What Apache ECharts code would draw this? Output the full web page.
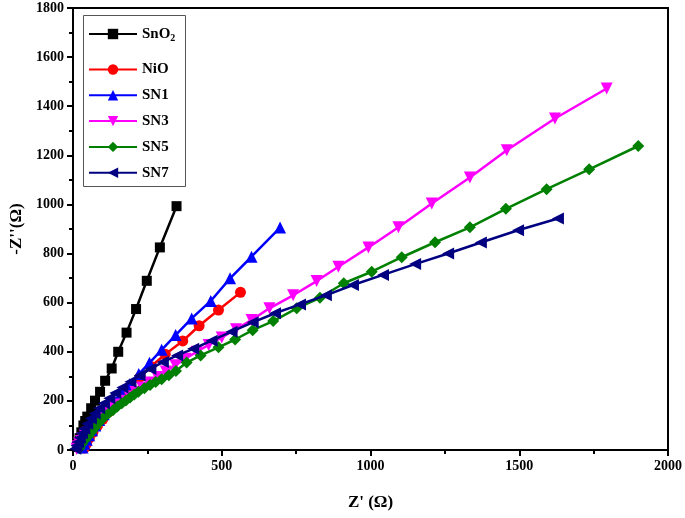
<!DOCTYPE html>
<html>
<head>
<meta charset="utf-8">
<script src="https://cdn.jsdelivr.net/npm/echarts@6/dist/echarts.min.js"></script>
<style>html,body{margin:0;padding:0;background:#fff}#c{width:685px;height:518px}</style>
</head>
<body>
<div id="c"></div>
<script>
const seriesNames = ['SnO2', 'NiO', 'SN1', 'SN3', 'SN5', 'SN7'];
const xTicks = [0, 500, 1000, 1500, 2000];
const yTicks = [0, 200, 400, 600, 800, 1000, 1200, 1400, 1600, 1800];

const SnO2 = [[13,12],[17,28],[22,48],[28,72],[35,100],[41,118],[48,136],[61,170],[74,201],[91,237],[108,282],[130,332],[152,400],[180,478],[212,574],[248,689],[292,825],[348,993]];
const NiO = [[38,8],[45,25],[55,48],[67,72],[82,98],[100,125],[120,155],[143,188],[168,222],[195,258],[226,298],[262,340],[310,390],[369,444],[424,506],[489,570],[563,642]];
const SN1 = [[32,10],[38,25],[46,42],[54,60],[64,80],[75,100],[88,122],[103,146],[120,172],[140,200],[163,232],[190,268],[221,309],[257,355],[298,408],[345,468],[399,536],[463,607],[528,699],[600,787],[696,906]];
const SN3 = [[12,5],[16,15],[21,26],[27,37],[33,48],[40,59],[48,70],[57,81],[66,92],[76,104],[86,116],[98,129],[110,142],[124,156],[138,170],[154,185],[171,201],[190,218],[210,236],[232,255],[256,275],[283,297],[312,320],[344,345],[378,372],[416,400],[456,428],[500,458],[548,492],[600,529],[660,577],[740,630],[819,688],[892,746],[993,825],[1094,907],[1206,1004],[1334,1110],[1458,1221],[1620,1350],[1794,1472]];
const SN5 = [[22,8],[30,25],[40,41],[52,58],[63,75],[74,92],[85,108],[96,123],[108,138],[121,151],[135,163],[149,177],[164,190],[178,202],[192,214],[206,226],[220,237],[240,251],[259,265],[278,277],[298,288],[322,304],[346,322],[382,356],[429,385],[489,418],[545,450],[604,488],[673,525],[752,577],[830,620],[910,679],[1004,726],[1105,785],[1217,846],[1334,907],[1455,982],[1592,1062],[1735,1143],[1900,1238]];
const SN7 = [[8,5],[12,18],[17,33],[23,50],[30,68],[38,87],[48,107],[60,128],[73,149],[88,170],[104,190],[122,211],[142,232],[166,255],[193,278],[224,303],[260,330],[302,358],[350,385],[404,412],[466,445],[533,482],[604,520],[679,557],[763,593],[850,630],[941,672],[1042,713],[1150,757],[1261,800],[1371,845],[1496,895],[1630,943]];

const dataSets = [SnO2, NiO, SN1, SN3, SN5, SN7];
const colors = ['#000000', '#ff0000', '#0000ff', '#ff00ff', '#008000', '#000080'];
const symbols = ['rect', 'circle', 'triangle', 'triangle', 'diamond', 'triangle'];
const rotates = [0, 0, 0, 180, 0, 90];
const sizes = [10, 11, 12, 12, 12, 12];

const font = '"Liberation Serif", "Times New Roman", serif';
const legendText = {fontFamily: font, fontWeight: 'bold', fontSize: 15, color: '#000',
  rich: {sub: {fontFamily: font, fontWeight: 'bold', fontSize: 10, verticalAlign: 'bottom', padding: [9, 0, 0, 0], color: '#000'}}};

const chart = echarts.init(document.getElementById('c'), null, {renderer: 'canvas'});
chart.setOption({
  animation: false,
  backgroundColor: '#fff',
  grid: {left: 73, right: 17, top: 8, bottom: 68, show: true, borderColor: '#000', borderWidth: 2,
         backgroundColor: 'transparent', containLabel: false, outerBoundsMode: 'none'},
  graphic: [{type: 'rect', left: 81, top: 13, shape: {width: 102, height: 171},
    style: {fill: 'none', stroke: '#555', lineWidth: 1}, z: 100, silent: true}],
  legend: [
    {data: [seriesNames[0]], orient: 'vertical', left: 88, top: 26.5, padding: 0,
     itemWidth: 48, itemHeight: 13, textStyle: legendText,
     formatter: n => n === 'SnO2' ? 'SnO{sub|2}' : n},
    {data: seriesNames.slice(1), orient: 'vertical', left: 88, top: 62, padding: 0,
     itemWidth: 48, itemHeight: 13, itemGap: 10.8, textStyle: legendText}
  ],
  xAxis: {
    type: 'value', min: xTicks[0], max: xTicks[xTicks.length - 1], interval: 500,
    name: "Z' (Ω)", nameLocation: 'middle', nameGap: 44,
    nameTextStyle: {fontFamily: font, fontWeight: 'bold', fontSize: 17, color: '#000'},
    axisLine: {show: true, lineStyle: {color: '#000', width: 2}},
    axisTick: {show: true, length: 6, lineStyle: {color: '#000', width: 2}},
    minorTick: {show: true, splitNumber: 2, length: 4, lineStyle: {color: '#000', width: 2}},
    splitLine: {show: false},
    axisLabel: {fontFamily: font, fontWeight: 'bold', fontSize: 14, color: '#000', margin: 9, formatter: v => String(v)}
  },
  yAxis: {
    type: 'value', min: yTicks[0], max: yTicks[yTicks.length - 1], interval: 200,
    name: "-Z''(Ω)", nameLocation: 'middle', nameGap: 47,
    nameTextStyle: {fontFamily: font, fontWeight: 'bold', fontSize: 17, color: '#000'},
    axisLine: {show: true, lineStyle: {color: '#000', width: 2}},
    axisTick: {show: true, length: 6, lineStyle: {color: '#000', width: 2}},
    minorTick: {show: true, splitNumber: 2, length: 4, lineStyle: {color: '#000', width: 2}},
    splitLine: {show: false},
    axisLabel: {fontFamily: font, fontWeight: 'bold', fontSize: 14, color: '#000', margin: 9, formatter: v => String(v)}
  },
  series: seriesNames.map((n, i) => ({
    name: n, type: 'line', data: dataSets[i],
    symbol: symbols[i], symbolSize: sizes[i], symbolRotate: rotates[i],
    showAllSymbol: true,
    lineStyle: {color: colors[i], width: 2.5},
    itemStyle: {color: colors[i], borderWidth: 0},
    z: 2 + i
  }))
});
</script>
</body>
</html>
